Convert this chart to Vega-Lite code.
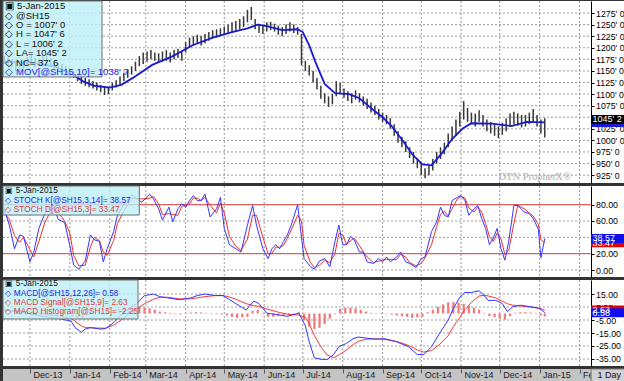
{
"$schema": "https://vega.github.io/schema/vega-lite/v6.json",
"padding": 0,
"background": "#333333",
"spacing": 3,
"bounds": "flush",
"config": {"view": {"stroke": null}, "font": "Liberation Sans", "text": {"font": "Liberation Sans"},
 "axis": {"grid": false, "tickColor": "#000", "domainColor": "#000", "labelColor": "#000", "labelFontSize": 8.8, "labelFont": "Liberation Sans", "labelOverlap": false, "labelFlush": false, "tickSize": 3, "labelPadding": 1.5}},
"datasets": {
"months": [{"m":"2013-12-01"},{"m":"2014-01-01"},{"m":"2014-02-01"},{"m":"2014-03-01"},{"m":"2014-04-01"},{"m":"2014-05-01"},{"m":"2014-06-01"},{"m":"2014-07-01"},{"m":"2014-08-01"},{"m":"2014-09-01"},{"m":"2014-10-01"},{"m":"2014-11-01"},{"m":"2014-12-01"},{"m":"2015-01-01"},{"m":"2015-02-01"}],
"price": [
{"d":"2013-11-11","l":1165,"h":1182},{"d":"2013-11-14","l":1160,"h":1178},{"d":"2013-11-17","l":1158,"h":1175},{"d":"2013-11-20","l":1150,"h":1170},{"d":"2013-11-23","l":1148,"h":1165},{"d":"2013-11-26","l":1155,"h":1172},{"d":"2013-11-29","l":1160,"h":1180},
{"d":"2013-12-02","l":1165,"h":1185},{"d":"2013-12-05","l":1158,"h":1178},{"d":"2013-12-08","l":1160,"h":1176},{"d":"2013-12-11","l":1162,"h":1182},{"d":"2013-12-14","l":1165,"h":1183},{"d":"2013-12-17","l":1160,"h":1178},{"d":"2013-12-20","l":1155,"h":1172},{"d":"2013-12-23","l":1150,"h":1168},{"d":"2013-12-26","l":1148,"h":1165},{"d":"2013-12-29","l":1145,"h":1160},
{"d":"2014-01-01","l":1140,"h":1156},{"d":"2014-01-04","l":1135,"h":1150},{"d":"2014-01-07","l":1128,"h":1145},{"d":"2014-01-10","l":1122,"h":1140},{"d":"2014-01-13","l":1118,"h":1135},{"d":"2014-01-16","l":1115,"h":1132},{"d":"2014-01-19","l":1112,"h":1128},{"d":"2014-01-22","l":1108,"h":1125},{"d":"2014-01-25","l":1104,"h":1120},{"d":"2014-01-28","l":1098,"h":1115},{"d":"2014-01-31","l":1100,"h":1116},
{"d":"2014-02-03","l":1108,"h":1124},{"d":"2014-02-06","l":1114,"h":1130},{"d":"2014-02-09","l":1120,"h":1138},{"d":"2014-02-12","l":1128,"h":1146},{"d":"2014-02-15","l":1135,"h":1152},{"d":"2014-02-18","l":1142,"h":1160},{"d":"2014-02-21","l":1150,"h":1170},{"d":"2014-02-24","l":1160,"h":1182},{"d":"2014-02-27","l":1165,"h":1190},
{"d":"2014-03-02","l":1170,"h":1192},{"d":"2014-03-05","l":1175,"h":1195},{"d":"2014-03-08","l":1172,"h":1190},{"d":"2014-03-11","l":1168,"h":1188},{"d":"2014-03-14","l":1170,"h":1192},{"d":"2014-03-17","l":1172,"h":1195},{"d":"2014-03-20","l":1168,"h":1190},{"d":"2014-03-23","l":1175,"h":1195},{"d":"2014-03-26","l":1178,"h":1198},{"d":"2014-03-29","l":1172,"h":1192},
{"d":"2014-04-01","l":1190,"h":1212},{"d":"2014-04-04","l":1200,"h":1222},{"d":"2014-04-07","l":1205,"h":1225},{"d":"2014-04-10","l":1208,"h":1228},{"d":"2014-04-13","l":1205,"h":1226},{"d":"2014-04-16","l":1210,"h":1230},{"d":"2014-04-19","l":1215,"h":1234},{"d":"2014-04-22","l":1220,"h":1238},{"d":"2014-04-25","l":1222,"h":1240},{"d":"2014-04-28","l":1225,"h":1242},
{"d":"2014-05-01","l":1228,"h":1245},{"d":"2014-05-04","l":1230,"h":1250},{"d":"2014-05-07","l":1232,"h":1255},{"d":"2014-05-10","l":1235,"h":1258},{"d":"2014-05-13","l":1240,"h":1262},{"d":"2014-05-16","l":1245,"h":1268},{"d":"2014-05-19","l":1255,"h":1282},{"d":"2014-05-22","l":1260,"h":1288},{"d":"2014-05-25","l":1240,"h":1262},{"d":"2014-05-28","l":1232,"h":1252},{"d":"2014-05-31","l":1230,"h":1248},
{"d":"2014-06-03","l":1235,"h":1255},{"d":"2014-06-06","l":1238,"h":1256},{"d":"2014-06-09","l":1235,"h":1252},{"d":"2014-06-12","l":1228,"h":1248},{"d":"2014-06-15","l":1225,"h":1245},{"d":"2014-06-18","l":1230,"h":1250},{"d":"2014-06-21","l":1235,"h":1255},{"d":"2014-06-24","l":1232,"h":1250},{"d":"2014-06-27","l":1228,"h":1245},{"d":"2014-06-30","l":1162,"h":1230},
{"d":"2014-07-03","l":1150,"h":1172},{"d":"2014-07-06","l":1140,"h":1162},{"d":"2014-07-09","l":1125,"h":1150},{"d":"2014-07-12","l":1110,"h":1135},{"d":"2014-07-15","l":1090,"h":1118},{"d":"2014-07-18","l":1080,"h":1102},{"d":"2014-07-21","l":1072,"h":1095},{"d":"2014-07-24","l":1078,"h":1100},{"d":"2014-07-27","l":1095,"h":1128},{"d":"2014-07-30","l":1100,"h":1124},
{"d":"2014-08-02","l":1092,"h":1112},{"d":"2014-08-05","l":1085,"h":1106},{"d":"2014-08-08","l":1080,"h":1102},{"d":"2014-08-11","l":1088,"h":1108},{"d":"2014-08-14","l":1082,"h":1102},{"d":"2014-08-17","l":1075,"h":1095},{"d":"2014-08-20","l":1068,"h":1090},{"d":"2014-08-23","l":1060,"h":1082},{"d":"2014-08-26","l":1055,"h":1075},{"d":"2014-08-29","l":1045,"h":1068},
{"d":"2014-09-01","l":1040,"h":1060},{"d":"2014-09-04","l":1035,"h":1055},{"d":"2014-09-07","l":1025,"h":1048},{"d":"2014-09-10","l":1010,"h":1035},{"d":"2014-09-13","l":995,"h":1020},{"d":"2014-09-16","l":985,"h":1008},{"d":"2014-09-19","l":975,"h":998},{"d":"2014-09-22","l":962,"h":985},{"d":"2014-09-25","l":950,"h":975},{"d":"2014-09-28","l":940,"h":962},
{"d":"2014-10-01","l":925,"h":950},{"d":"2014-10-04","l":918,"h":940},{"d":"2014-10-07","l":925,"h":945},{"d":"2014-10-10","l":935,"h":960},{"d":"2014-10-13","l":950,"h":975},{"d":"2014-10-16","l":960,"h":985},{"d":"2014-10-19","l":970,"h":995},{"d":"2014-10-22","l":985,"h":1015},{"d":"2014-10-25","l":1000,"h":1030},{"d":"2014-10-28","l":1010,"h":1045},{"d":"2014-10-31","l":1030,"h":1062},
{"d":"2014-11-03","l":1045,"h":1085},{"d":"2014-11-06","l":1040,"h":1070},{"d":"2014-11-09","l":1035,"h":1060},{"d":"2014-11-12","l":1030,"h":1058},{"d":"2014-11-15","l":1040,"h":1065},{"d":"2014-11-18","l":1030,"h":1055},{"d":"2014-11-21","l":1020,"h":1045},{"d":"2014-11-24","l":1015,"h":1040},{"d":"2014-11-27","l":1010,"h":1035},{"d":"2014-11-30","l":1005,"h":1030},
{"d":"2014-12-03","l":1012,"h":1038},{"d":"2014-12-06","l":1020,"h":1048},{"d":"2014-12-09","l":1030,"h":1058},{"d":"2014-12-12","l":1035,"h":1062},{"d":"2014-12-15","l":1032,"h":1058},{"d":"2014-12-18","l":1028,"h":1055},{"d":"2014-12-21","l":1030,"h":1055},{"d":"2014-12-24","l":1035,"h":1060},{"d":"2014-12-27","l":1040,"h":1068},{"d":"2014-12-30","l":1030,"h":1055},
{"d":"2015-01-02","l":1015,"h":1045},{"d":"2015-01-05","l":1006.25,"h":1047.75}
],
"ma": [
{"d":"2013-11-11","v":1170},{"d":"2013-12-01","v":1168},{"d":"2013-12-20","v":1160},{"d":"2014-01-03","v":1143},{"d":"2014-01-11","v":1128},{"d":"2014-01-20","v":1118},{"d":"2014-02-01","v":1114},{"d":"2014-02-10","v":1120},{"d":"2014-02-19","v":1135},{"d":"2014-03-06","v":1163},{"d":"2014-03-22","v":1182},{"d":"2014-04-06","v":1205},{"d":"2014-04-22","v":1222},{"d":"2014-05-07","v":1234},{"d":"2014-05-19","v":1242},{"d":"2014-05-27","v":1250},{"d":"2014-06-03","v":1247},{"d":"2014-06-15","v":1238},{"d":"2014-06-27","v":1240},{"d":"2014-07-01","v":1234},{"d":"2014-07-06","v":1205},{"d":"2014-07-11","v":1168},{"d":"2014-07-18","v":1122},{"d":"2014-07-26","v":1102},{"d":"2014-08-06","v":1100},{"d":"2014-08-14","v":1091},{"d":"2014-08-26","v":1063},{"d":"2014-09-01","v":1050},{"d":"2014-09-08","v":1031},{"d":"2014-09-16","v":1002},{"d":"2014-09-24","v":970},{"d":"2014-10-02","v":948},{"d":"2014-10-09","v":946},{"d":"2014-10-17","v":972},{"d":"2014-10-25","v":1003},{"d":"2014-11-02","v":1025},{"d":"2014-11-09","v":1037},{"d":"2014-11-25","v":1036},{"d":"2014-12-10","v":1031},{"d":"2014-12-22","v":1040},{"d":"2015-01-05","v":1038.9}
],
"st": [
{"d":"2013-11-11","k":75,"s":70},{"d":"2013-11-15","k":55,"s":62},{"d":"2013-11-19","k":26,"s":42},{"d":"2013-11-23","k":43,"s":34},{"d":"2013-11-26","k":41,"s":40},{"d":"2013-12-01","k":10,"s":25},{"d":"2013-12-04","k":22,"s":16},{"d":"2013-12-08","k":51,"s":35},{"d":"2013-12-13","k":71,"s":60},{"d":"2013-12-19","k":80,"s":76},{"d":"2013-12-23","k":62,"s":70},{"d":"2013-12-28","k":58,"s":60},
{"d":"2014-01-01","k":30,"s":45},{"d":"2014-01-04","k":6,"s":18},{"d":"2014-01-08","k":1,"s":5},{"d":"2014-01-13","k":11,"s":6},{"d":"2014-01-17","k":43,"s":28},{"d":"2014-01-20","k":37,"s":40},{"d":"2014-01-24","k":35,"s":36},{"d":"2014-01-27","k":10,"s":22},{"d":"2014-01-30","k":26,"s":18},
{"d":"2014-02-04","k":47,"s":36},{"d":"2014-02-07","k":67,"s":57},{"d":"2014-02-13","k":83,"s":75},{"d":"2014-02-18","k":92,"s":88},{"d":"2014-02-26","k":83,"s":87},
{"d":"2014-03-04","k":93,"s":88},{"d":"2014-03-07","k":87,"s":90},{"d":"2014-03-11","k":75,"s":81},{"d":"2014-03-14","k":61,"s":68},{"d":"2014-03-19","k":77,"s":69},{"d":"2014-03-22","k":59,"s":68},{"d":"2014-03-26","k":75,"s":67},{"d":"2014-03-29","k":81,"s":78},
{"d":"2014-04-01","k":77,"s":79},{"d":"2014-04-04","k":85,"s":81},{"d":"2014-04-07","k":91,"s":88},{"d":"2014-04-10","k":85,"s":88},{"d":"2014-04-13","k":85,"s":85},{"d":"2014-04-16","k":93,"s":89},{"d":"2014-04-20","k":65,"s":79},{"d":"2014-04-25","k":75,"s":70},{"d":"2014-04-28","k":89,"s":82},
{"d":"2014-05-01","k":51,"s":70},{"d":"2014-05-05","k":31,"s":41},{"d":"2014-05-10","k":26,"s":29},{"d":"2014-05-14","k":22,"s":24},{"d":"2014-05-19","k":55,"s":38},{"d":"2014-05-23","k":79,"s":67},{"d":"2014-05-26","k":55,"s":67},{"d":"2014-05-31","k":26,"s":40},
{"d":"2014-06-04","k":14,"s":20},{"d":"2014-06-07","k":26,"s":20},{"d":"2014-06-10","k":31,"s":28},{"d":"2014-06-13","k":26,"s":28},{"d":"2014-06-16","k":35,"s":30},{"d":"2014-06-19","k":43,"s":39},{"d":"2014-06-22","k":55,"s":49},{"d":"2014-06-27","k":80,"s":67},{"d":"2014-06-30","k":40,"s":60},
{"d":"2014-07-02","k":14,"s":30},{"d":"2014-07-07","k":4,"s":9},{"d":"2014-07-10","k":1,"s":3},{"d":"2014-07-14","k":11,"s":6},{"d":"2014-07-18","k":14,"s":12},{"d":"2014-07-22","k":4,"s":9},{"d":"2014-07-26","k":35,"s":20},{"d":"2014-07-29","k":55,"s":45},
{"d":"2014-08-01","k":31,"s":43},{"d":"2014-08-04","k":31,"s":31},{"d":"2014-08-07","k":41,"s":36},{"d":"2014-08-10","k":37,"s":39},{"d":"2014-08-14","k":22,"s":30},{"d":"2014-08-17","k":22,"s":22},{"d":"2014-08-20","k":10,"s":16},{"d":"2014-08-25","k":8,"s":9},{"d":"2014-08-29","k":14,"s":11},
{"d":"2014-09-01","k":10,"s":12},{"d":"2014-09-04","k":16,"s":13},{"d":"2014-09-07","k":10,"s":13},{"d":"2014-09-12","k":16,"s":13},{"d":"2014-09-15","k":22,"s":19},{"d":"2014-09-19","k":10,"s":16},{"d":"2014-09-22","k":8,"s":9},{"d":"2014-09-27","k":3,"s":5},
{"d":"2014-10-01","k":14,"s":8},{"d":"2014-10-04","k":16,"s":15},{"d":"2014-10-09","k":47,"s":31},{"d":"2014-10-13","k":59,"s":53},{"d":"2014-10-16","k":77,"s":68},{"d":"2014-10-19","k":67,"s":72},{"d":"2014-10-22","k":65,"s":66},{"d":"2014-10-25","k":85,"s":75},{"d":"2014-10-29","k":89,"s":87},
{"d":"2014-11-01","k":91,"s":90},{"d":"2014-11-04","k":85,"s":88},{"d":"2014-11-07","k":67,"s":76},{"d":"2014-11-11","k":75,"s":71},{"d":"2014-11-14","k":79,"s":77},{"d":"2014-11-17","k":63,"s":71},{"d":"2014-11-20","k":51,"s":57},{"d":"2014-11-23","k":31,"s":41},{"d":"2014-11-26","k":39,"s":35},{"d":"2014-11-29","k":51,"s":45},
{"d":"2014-12-02","k":26,"s":38},{"d":"2014-12-05","k":12,"s":19},{"d":"2014-12-08","k":35,"s":24},{"d":"2014-12-12","k":79,"s":57},{"d":"2014-12-15","k":79,"s":79},{"d":"2014-12-20","k":71,"s":75},{"d":"2014-12-24","k":69,"s":70},{"d":"2014-12-27","k":63,"s":66},{"d":"2014-12-31","k":50,"s":56},
{"d":"2015-01-02","k":15,"s":37},{"d":"2015-01-05","k":38.57,"s":33.47}
],
"mc": [
{"d":"2013-11-11","m":3,"g":2},{"d":"2013-11-25","m":1,"g":2},{"d":"2013-12-10","m":-2,"g":0},{"d":"2013-12-24","m":-4,"g":-2},
{"d":"2014-01-02","m":-5.9,"g":-3.5},{"d":"2014-01-05","m":-10.8,"g":-6},{"d":"2014-01-10","m":-14.4,"g":-9.5},{"d":"2014-01-13","m":-12,"g":-10.8},{"d":"2014-01-17","m":-10.8,"g":-11},{"d":"2014-01-25","m":-12,"g":-11.3},{"d":"2014-01-29","m":-11.5,"g":-11.2},
{"d":"2014-02-04","m":-7.1,"g":-9},{"d":"2014-02-10","m":-1,"g":-5},{"d":"2014-02-16","m":4,"g":0},{"d":"2014-02-22","m":7.6,"g":3.5},{"d":"2014-02-28","m":13.8,"g":7.6},
{"d":"2014-03-07","m":15,"g":11},{"d":"2014-03-12","m":13,"g":12.5},{"d":"2014-03-18","m":12,"g":12.5},{"d":"2014-03-27","m":10.6,"g":11.3},
{"d":"2014-04-05","m":12,"g":11.3},{"d":"2014-04-10","m":13.8,"g":12},{"d":"2014-04-16","m":15,"g":13},{"d":"2014-04-24","m":13.8,"g":13.8},{"d":"2014-04-30","m":13.8,"g":13.8},
{"d":"2014-05-04","m":11.3,"g":13},{"d":"2014-05-10","m":7.6,"g":11},{"d":"2014-05-18","m":2.7,"g":7.6},{"d":"2014-05-24","m":9.6,"g":6},{"d":"2014-05-28","m":7.6,"g":5.5},
{"d":"2014-06-03","m":0.3,"g":3.5},{"d":"2014-06-12","m":-1,"g":1},{"d":"2014-06-19","m":-2.2,"g":-0.5},{"d":"2014-06-28","m":0.3,"g":-1.2},
{"d":"2014-07-03","m":-9.5,"g":-3},{"d":"2014-07-06","m":-21.8,"g":-8},{"d":"2014-07-10","m":-34.1,"g":-17},{"d":"2014-07-16","m":-35.3,"g":-27},{"d":"2014-07-20","m":-35.3,"g":-32},{"d":"2014-07-25","m":-31.6,"g":-34},{"d":"2014-07-29","m":-25.5,"g":-32},
{"d":"2014-08-04","m":-23,"g":-28},{"d":"2014-08-09","m":-19.4,"g":-24},{"d":"2014-08-13","m":-18.1,"g":-21.5},{"d":"2014-08-19","m":-18.9,"g":-19.8},{"d":"2014-08-27","m":-19.8,"g":-19.4},
{"d":"2014-09-03","m":-19.4,"g":-20},{"d":"2014-09-12","m":-21.8,"g":-21.5},{"d":"2014-09-21","m":-25.5,"g":-24.5},{"d":"2014-09-28","m":-31.6,"g":-28},
{"d":"2014-10-03","m":-31.6,"g":-29.7},{"d":"2014-10-09","m":-25.5,"g":-28.5},{"d":"2014-10-15","m":-15.7,"g":-24},{"d":"2014-10-22","m":-5,"g":-17},{"d":"2014-10-26","m":4,"g":-10},{"d":"2014-10-31","m":12.5,"g":-3},
{"d":"2014-11-04","m":16.2,"g":3},{"d":"2014-11-09","m":16.2,"g":8.5},{"d":"2014-11-15","m":17.5,"g":13.5},{"d":"2014-11-19","m":13.8,"g":14},{"d":"2014-11-22","m":10.1,"g":13.5},{"d":"2014-11-28","m":10.1,"g":12},
{"d":"2014-12-03","m":7.6,"g":9.5},{"d":"2014-12-07","m":1.5,"g":7.5},{"d":"2014-12-11","m":5.2,"g":6.5},{"d":"2014-12-17","m":6.4,"g":5.8},{"d":"2014-12-25","m":5.2,"g":5},
{"d":"2015-01-01","m":4,"g":4},{"d":"2015-01-05","m":0.58,"g":2.63}
],
"hg": [
{"d":"2013-11-12","h":0.5},{"d":"2013-11-16","h":0.3},{"d":"2013-11-20","h":-0.5},{"d":"2013-11-24","h":-1},{"d":"2013-11-28","h":-1.2},{"d":"2013-12-02","h":-1.5},{"d":"2013-12-06","h":-1.5},{"d":"2013-12-10","h":-1.8},{"d":"2013-12-14","h":-2},{"d":"2013-12-18","h":-2},{"d":"2013-12-22","h":-2},{"d":"2013-12-26","h":-2},{"d":"2013-12-30","h":-2},
{"d":"2014-01-03","h":-2.5},{"d":"2014-01-07","h":-3.5},{"d":"2014-01-11","h":-3.5},{"d":"2014-01-15","h":-1},{"d":"2014-01-19","h":0.2},{"d":"2014-01-23","h":-0.5},{"d":"2014-01-27","h":-0.3},{"d":"2014-01-31","h":1.5},
{"d":"2014-02-04","h":2.5},{"d":"2014-02-08","h":3.5},{"d":"2014-02-12","h":4},{"d":"2014-02-16","h":4.5},{"d":"2014-02-20","h":4.5},{"d":"2014-02-24","h":5},{"d":"2014-02-28","h":4.8},
{"d":"2014-03-04","h":4},{"d":"2014-03-08","h":3},{"d":"2014-03-12","h":1.5},{"d":"2014-03-16","h":1},{"d":"2014-03-20","h":0.5},{"d":"2014-03-24","h":-0.5},{"d":"2014-03-28","h":-0.8},
{"d":"2014-04-01","h":0.5},{"d":"2014-04-05","h":0.7},{"d":"2014-04-09","h":1},{"d":"2014-04-13","h":0.8},{"d":"2014-04-17","h":0.5},{"d":"2014-04-21","h":-0.5},{"d":"2014-04-25","h":-0.5},{"d":"2014-04-29","h":-0.8},
{"d":"2014-05-03","h":-1.5},{"d":"2014-05-07","h":-2.5},{"d":"2014-05-11","h":-3.4},{"d":"2014-05-15","h":-3},{"d":"2014-05-19","h":-2.5},{"d":"2014-05-23","h":2},{"d":"2014-05-27","h":2.7},{"d":"2014-05-31","h":-0.5},
{"d":"2014-06-04","h":-2.5},{"d":"2014-06-08","h":-2.5},{"d":"2014-06-12","h":-2},{"d":"2014-06-16","h":-1.5},{"d":"2014-06-20","h":-1.5},{"d":"2014-06-24","h":-0.8},{"d":"2014-06-28","h":1},
{"d":"2014-07-02","h":-5},{"d":"2014-07-06","h":-10},{"d":"2014-07-10","h":-12},{"d":"2014-07-14","h":-11},{"d":"2014-07-18","h":-8},{"d":"2014-07-22","h":-4},{"d":"2014-07-26","h":-0.5},{"d":"2014-07-30","h":3.5},
{"d":"2014-08-03","h":4.5},{"d":"2014-08-07","h":4.5},{"d":"2014-08-11","h":4},{"d":"2014-08-15","h":3},{"d":"2014-08-19","h":1.5},{"d":"2014-08-23","h":0.5},{"d":"2014-08-27","h":0.3},{"d":"2014-08-31","h":0.5},
{"d":"2014-09-04","h":0.3},{"d":"2014-09-08","h":-0.8},{"d":"2014-09-12","h":-1.5},{"d":"2014-09-16","h":-2},{"d":"2014-09-20","h":-2.5},{"d":"2014-09-24","h":-3.4},{"d":"2014-09-28","h":-3},
{"d":"2014-10-02","h":-2.5},{"d":"2014-10-06","h":1},{"d":"2014-10-10","h":3},{"d":"2014-10-14","h":5},{"d":"2014-10-18","h":7},{"d":"2014-10-22","h":8.5},{"d":"2014-10-26","h":8.9},{"d":"2014-10-30","h":8.5},
{"d":"2014-11-03","h":7.5},{"d":"2014-11-07","h":6},{"d":"2014-11-11","h":4.5},{"d":"2014-11-15","h":3},{"d":"2014-11-19","h":0.5},{"d":"2014-11-23","h":-2},{"d":"2014-11-27","h":-3},
{"d":"2014-12-01","h":-4},{"d":"2014-12-05","h":-4.6},{"d":"2014-12-09","h":-2},{"d":"2014-12-13","h":0.5},{"d":"2014-12-17","h":1},{"d":"2014-12-21","h":1},{"d":"2014-12-25","h":0.8},{"d":"2014-12-29","h":0.5},
{"d":"2015-01-02","h":-1.5},{"d":"2015-01-05","h":-2.25}
]
},
"vconcat": [
{
"width": 624, "height": 182,
"view": {"fill": "white", "stroke": null},
"layer": [
{"data": {"values": [{"g":925},{"g":950},{"g":975},{"g":1000},{"g":1025},{"g":1050},{"g":1075},{"g":1100},{"g":1125},{"g":1150},{"g":1175},{"g":1200},{"g":1225},{"g":1250},{"g":1275}]},
 "mark": {"type": "rule", "color": "#9a9a9a", "strokeWidth": 1, "strokeDash": [2, 2]},
 "encoding": {
  "x": {"datum": {"year": 2013, "month": 11, "date": 10, "hours": 2, "utc": true}, "type": "temporal", "scale": {"type": "utc", "domain": [{"year": 2013, "month": 11, "date": 10, "hours": 2, "utc": true}, {"year": 2015, "month": 2, "date": 9, "hours": 22, "utc": true}], "range": [0, 588], "nice": false}, "axis": null},
  "x2": {"datum": {"year": 2015, "month": 2, "date": 9, "hours": 22, "utc": true}},
  "y": {"field": "g", "type": "quantitative", "scale": {"domain": [908, 1301], "nice": false, "zero": false},
        "axis": {"orient": "right", "offset": -36, "title": null, "values": [925, 950, 975, 1000, 1025, 1050, 1075, 1100, 1125, 1150, 1175, 1200, 1225, 1250, 1275], "labelExpr": "datum.value + \"' 0\""}}}},
{"data": {"name": "months"}, "mark": {"type": "rule", "color": "#9a9a9a", "strokeWidth": 1, "strokeDash": [2, 2]},
 "encoding": {"x": {"field": "m", "type": "temporal", "axis": null}}},
{"data": {"name": "price"}, "mark": {"type": "rule", "color": "#383838", "strokeWidth": 1.5},
 "encoding": {
  "x": {"field": "d", "type": "temporal", "axis": null},
  "y": {"field": "l", "type": "quantitative", "axis": {"orient": "right", "offset": -36, "title": null, "values": [925, 950, 975, 1000, 1025, 1050, 1075, 1100, 1125, 1150, 1175, 1200, 1225, 1250, 1275], "labelExpr": "datum.value + \"' 0\""}},
  "y2": {"field": "h"}}},
{"data": {"name": "ma"}, "mark": {"type": "line", "color": "#1a1ad0", "strokeWidth": 1.8},
 "encoding": {"x": {"field": "d", "type": "temporal", "axis": null},
  "y": {"field": "v", "type": "quantitative", "axis": {"orient": "right", "offset": -36, "title": null, "values": [925, 950, 975, 1000, 1025, 1050, 1075, 1100, 1125, 1150, 1175, 1200, 1225, 1250, 1275], "labelExpr": "datum.value + \"' 0\""}}}},
{"data": {"values": [{"t": "DTN  ProphetX®"}]}, "mark": {"type": "text", "align": "left", "baseline": "middle", "fontSize": 10.5, "font": "Liberation Serif", "color": "#b0b0b0"},
 "encoding": {"x": {"datum": {"year": 2014, "month": 11, "date": 30, "utc": true}, "type": "temporal", "axis": null},
  "y": {"datum": 921, "type": "quantitative", "axis": {"orient": "right", "offset": -36, "title": null, "values": [925, 950, 975, 1000, 1025, 1050, 1075, 1100, 1125, 1150, 1175, 1200, 1225, 1250, 1275], "labelExpr": "datum.value + \"' 0\""}}, "text": {"field": "t"}}},
{"data": {"values": [{}]}, "mark": {"type": "rect", "fill": "#bdeff8", "fillOpacity": 0.8, "stroke": "#707070", "strokeWidth": 1},
 "encoding": {"x": {"datum": {"year": 2013, "month": 11, "date": 10, "hours": 2, "utc": true}, "type": "temporal", "axis": null}, "x2": {"datum": {"year": 2014, "month": 1, "date": 26, "utc": true}},
  "y": {"datum": 1301, "type": "quantitative", "axis": {"orient": "right", "offset": -36, "title": null, "values": [925, 950, 975, 1000, 1025, 1050, 1075, 1100, 1125, 1150, 1175, 1200, 1225, 1250, 1275], "labelExpr": "datum.value + \"' 0\""}}, "y2": {"datum": 1137}}},
{"data": {"values": [{"t": ["▣ 5-Jan-2015", "◇ @SH15", "◇ O = 1007' 0", "◇ H = 1047' 6", "◇ L = 1006' 2", "◇ LA= 1045' 2", "◇ NC= 37' 6"]}]}, "mark": {"type": "text", "align": "left", "baseline": "top", "fontSize": 9.5, "lineHeight": 9.4, "color": "#111111"},
 "encoding": {"x": {"datum": {"year": 2013, "month": 11, "date": 12, "utc": true}, "type": "temporal", "axis": null},
  "y": {"datum": 1300.5, "type": "quantitative", "axis": {"orient": "right", "offset": -36, "title": null, "values": [925, 950, 975, 1000, 1025, 1050, 1075, 1100, 1125, 1150, 1175, 1200, 1225, 1250, 1275], "labelExpr": "datum.value + \"' 0\""}}, "text": {"field": "t"}}},
{"data": {"values": [{"t": "◇ MOV[@SH15,10]= 1038' 7"}]}, "mark": {"type": "text", "align": "left", "baseline": "top", "fontSize": 9.5, "color": "#2323e6"},
 "encoding": {"x": {"datum": {"year": 2013, "month": 11, "date": 12, "utc": true}, "type": "temporal", "axis": null},
  "y": {"datum": 1158.5, "type": "quantitative", "axis": {"orient": "right", "offset": -36, "title": null, "values": [925, 950, 975, 1000, 1025, 1050, 1075, 1100, 1125, 1150, 1175, 1200, 1225, 1250, 1275], "labelExpr": "datum.value + \"' 0\""}}, "text": {"field": "t"}}},
{"data": {"values": [{"v": 1038.9, "c": "blue"}, {"v": 1045.25, "c": "black"}]}, "mark": {"type": "rule", "strokeWidth": 9},
 "encoding": {"x": {"datum": {"year": 2015, "month": 2, "date": 10, "utc": true}, "type": "temporal", "axis": null}, "x2": {"datum": {"year": 2015, "month": 3, "date": 8, "utc": true}},
  "y": {"field": "v", "type": "quantitative", "axis": {"orient": "right", "offset": -36, "title": null, "values": [925, 950, 975, 1000, 1025, 1050, 1075, 1100, 1125, 1150, 1175, 1200, 1225, 1250, 1275], "labelExpr": "datum.value + \"' 0\""}},
  "color": {"field": "c", "type": "nominal", "scale": {"domain": ["blue", "black"], "range": ["#1a1ad0", "#000000"]}, "legend": null}}},
{"data": {"values": [{"t": "1045' 2", "v": 1045.25}]}, "mark": {"type": "text", "align": "left", "baseline": "middle", "fontSize": 9, "color": "#ffffff"},
 "encoding": {"x": {"datum": {"year": 2015, "month": 2, "date": 11, "utc": true}, "type": "temporal", "axis": null},
  "y": {"field": "v", "type": "quantitative", "axis": {"orient": "right", "offset": -36, "title": null, "values": [925, 950, 975, 1000, 1025, 1050, 1075, 1100, 1125, 1150, 1175, 1200, 1225, 1250, 1275], "labelExpr": "datum.value + \"' 0\""}}, "text": {"field": "t"}}}
]
},
{
"width": 624, "height": 91,
"view": {"fill": "white", "stroke": null},
"layer": [
{"data": {"values": [{"g": 0}, {"g": 20}, {"g": 40}, {"g": 60}, {"g": 80}]}, "mark": {"type": "rule", "color": "#9a9a9a", "strokeWidth": 1, "strokeDash": [2, 2]},
 "encoding": {
  "x": {"datum": {"year": 2013, "month": 11, "date": 10, "hours": 2, "utc": true}, "type": "temporal", "scale": {"type": "utc", "domain": [{"year": 2013, "month": 11, "date": 10, "hours": 2, "utc": true}, {"year": 2015, "month": 2, "date": 9, "hours": 22, "utc": true}], "range": [0, 588], "nice": false}, "axis": null},
  "x2": {"datum": {"year": 2015, "month": 2, "date": 9, "hours": 22, "utc": true}},
  "y": {"field": "g", "type": "quantitative", "scale": {"domain": [-8.57, 102.85], "nice": false, "zero": false},
        "axis": {"orient": "right", "offset": -36, "title": null, "values": [0, 20, 40, 60, 80], "format": ".2f"}}}},
{"data": {"name": "months"}, "mark": {"type": "rule", "color": "#9a9a9a", "strokeWidth": 1, "strokeDash": [2, 2]},
 "encoding": {"x": {"field": "m", "type": "temporal", "axis": null}}},
{"data": {"values": [{"v": 80}, {"v": 20}]}, "mark": {"type": "rule", "color": "#e04848", "strokeWidth": 1},
 "encoding": {
  "x": {"datum": {"year": 2013, "month": 11, "date": 10, "hours": 2, "utc": true}, "type": "temporal", "axis": null},
  "x2": {"datum": {"year": 2015, "month": 2, "date": 9, "hours": 22, "utc": true}},
  "y": {"field": "v", "type": "quantitative", "axis": {"orient": "right", "offset": -36, "title": null, "values": [0, 20, 40, 60, 80], "format": ".2f"}}}},
{"data": {"name": "st"}, "mark": {"type": "line", "color": "#e83030", "strokeWidth": 1},
 "encoding": {"x": {"field": "d", "type": "temporal", "axis": null},
  "y": {"field": "s", "type": "quantitative", "axis": {"orient": "right", "offset": -36, "title": null, "values": [0, 20, 40, 60, 80], "format": ".2f"}}}},
{"data": {"name": "st"}, "mark": {"type": "line", "color": "#3535ff", "strokeWidth": 1},
 "encoding": {"x": {"field": "d", "type": "temporal", "axis": null},
  "y": {"field": "k", "type": "quantitative", "axis": {"orient": "right", "offset": -36, "title": null, "values": [0, 20, 40, 60, 80], "format": ".2f"}}}},
{"data": {"values": [{}]}, "mark": {"type": "rect", "fill": "#bdeff8", "fillOpacity": 0.8, "stroke": "#707070", "strokeWidth": 1},
 "encoding": {"x": {"datum": {"year": 2013, "month": 11, "date": 10, "hours": 2, "utc": true}, "type": "temporal", "axis": null}, "x2": {"datum": {"year": 2014, "month": 2, "date": 24, "utc": true}},
  "y": {"datum": 102.85, "type": "quantitative", "axis": {"orient": "right", "offset": -36, "title": null, "values": [0, 20, 40, 60, 80], "format": ".2f"}}, "y2": {"datum": 67.3}}},
{"data": {"values": [{"t": "▣ 5-Jan-2015", "v": 96.7, "c": "a"}, {"t": "◇ STOCH K[@SH15,3,14]= 38.57", "v": 84.5, "c": "b"}, {"t": "◇ STOCH D[@SH15,3]= 33.47", "v": 73.5, "c": "c"}]}, "mark": {"type": "text", "align": "left", "baseline": "middle", "fontSize": 8.3},
 "encoding": {"x": {"datum": {"year": 2013, "month": 11, "date": 12, "utc": true}, "type": "temporal", "axis": null},
  "y": {"field": "v", "type": "quantitative", "axis": {"orient": "right", "offset": -36, "title": null, "values": [0, 20, 40, 60, 80], "format": ".2f"}}, "text": {"field": "t"},
  "color": {"field": "c", "type": "nominal", "scale": {"domain": ["a", "b", "c"], "range": ["#111111", "#2323e6", "#d83a3a"]}, "legend": null}}},
{"data": {"values": [{"v": 33.47, "c": "red"}, {"v": 38.57, "c": "blue"}]}, "mark": {"type": "rule", "strokeWidth": 9},
 "encoding": {"x": {"datum": {"year": 2015, "month": 2, "date": 10, "utc": true}, "type": "temporal", "axis": null}, "x2": {"datum": {"year": 2015, "month": 3, "date": 8, "utc": true}},
  "y": {"field": "v", "type": "quantitative", "axis": {"orient": "right", "offset": -36, "title": null, "values": [0, 20, 40, 60, 80], "format": ".2f"}},
  "color": {"field": "c", "type": "nominal", "scale": {"domain": ["red", "blue"], "range": ["#e00000", "#1010ee"]}, "legend": null}}},
{"data": {"values": [{"t": "33.47", "v": 33.47}, {"t": "38.57", "v": 38.57}]}, "mark": {"type": "text", "align": "left", "baseline": "middle", "fontSize": 9, "color": "#ffffff"},
 "encoding": {"x": {"datum": {"year": 2015, "month": 2, "date": 11, "utc": true}, "type": "temporal", "axis": null},
  "y": {"field": "v", "type": "quantitative", "axis": {"orient": "right", "offset": -36, "title": null, "values": [0, 20, 40, 60, 80], "format": ".2f"}}, "text": {"field": "t"}}}
],
"resolve": {"scale": {"color": "independent"}}
},
{
"width": 624, "height": 86,
"view": {"fill": "white", "stroke": null},
"layer": [
{"data": {"values": [{"g": -35}, {"g": -25}, {"g": -15}, {"g": -5}, {"g": 5}, {"g": 15}]}, "mark": {"type": "rule", "color": "#9a9a9a", "strokeWidth": 1, "strokeDash": [2, 2]},
 "encoding": {
  "x": {"datum": {"year": 2013, "month": 11, "date": 10, "hours": 2, "utc": true}, "type": "temporal", "scale": {"type": "utc", "domain": [{"year": 2013, "month": 11, "date": 10, "hours": 2, "utc": true}, {"year": 2015, "month": 2, "date": 9, "hours": 22, "utc": true}], "range": [0, 588], "nice": false}, "axis": null},
  "x2": {"datum": {"year": 2015, "month": 2, "date": 9, "hours": 22, "utc": true}},
  "y": {"field": "g", "type": "quantitative", "scale": {"domain": [-40.4, 25.8], "nice": false, "zero": false},
        "axis": {"orient": "right", "offset": -36, "title": null, "values": [-35, -25, -15, -5, 5, 15], "labelExpr": "replace(format(datum.value, '.2f'), '\u2212', '-')"}}}},
{"data": {"name": "months"}, "mark": {"type": "rule", "color": "#9a9a9a", "strokeWidth": 1, "strokeDash": [2, 2]},
 "encoding": {"x": {"field": "m", "type": "temporal", "axis": null}}},
{"data": {"name": "hg"}, "mark": {"type": "rule", "color": "#f07878", "strokeWidth": 2.2},
 "encoding": {
  "x": {"field": "d", "type": "temporal", "axis": null},
  "y": {"field": "h", "type": "quantitative", "axis": {"orient": "right", "offset": -36, "title": null, "values": [-35, -25, -15, -5, 5, 15], "labelExpr": "replace(format(datum.value, '.2f'), '\u2212', '-')"}},
  "y2": {"datum": 0}}},
{"data": {"name": "mc"}, "mark": {"type": "line", "color": "#f03a3a", "strokeWidth": 1},
 "encoding": {"x": {"field": "d", "type": "temporal", "axis": null},
  "y": {"field": "g", "type": "quantitative", "axis": {"orient": "right", "offset": -36, "title": null, "values": [-35, -25, -15, -5, 5, 15], "labelExpr": "replace(format(datum.value, '.2f'), '\u2212', '-')"}}}},
{"data": {"name": "mc"}, "mark": {"type": "line", "color": "#3535ff", "strokeWidth": 1},
 "encoding": {"x": {"field": "d", "type": "temporal", "axis": null},
  "y": {"field": "m", "type": "quantitative", "axis": {"orient": "right", "offset": -36, "title": null, "values": [-35, -25, -15, -5, 5, 15], "labelExpr": "replace(format(datum.value, '.2f'), '\u2212', '-')"}}}},
{"data": {"values": [{}]}, "mark": {"type": "rect", "fill": "#bdeff8", "fillOpacity": 0.8, "stroke": "#707070", "strokeWidth": 1},
 "encoding": {"x": {"datum": {"year": 2013, "month": 11, "date": 10, "hours": 2, "utc": true}, "type": "temporal", "axis": null}, "x2": {"datum": {"year": 2014, "month": 2, "date": 23, "utc": true}},
  "y": {"datum": 25.8, "type": "quantitative", "axis": {"orient": "right", "offset": -36, "title": null, "values": [-35, -25, -15, -5, 5, 15], "labelExpr": "replace(format(datum.value, '.2f'), '\u2212', '-')"}}, "y2": {"datum": -4.2}}},
{"data": {"values": [{"t": "▣ 5-Jan-2015", "v": 22.7, "c": "a"}, {"t": "◇ MACD[@SH15,12,26]= 0.58", "v": 15.0, "c": "b"}, {"t": "◇ MACD Signal[@SH15,9]= 2.63", "v": 8.1, "c": "c"}, {"t": "◇ MACD Histogram[@SH15]= -2.25", "v": 1.2, "c": "c"}]}, "mark": {"type": "text", "align": "left", "baseline": "middle", "fontSize": 8.3},
 "encoding": {"x": {"datum": {"year": 2013, "month": 11, "date": 12, "utc": true}, "type": "temporal", "axis": null},
  "y": {"field": "v", "type": "quantitative", "axis": {"orient": "right", "offset": -36, "title": null, "values": [-35, -25, -15, -5, 5, 15], "labelExpr": "replace(format(datum.value, '.2f'), '\u2212', '-')"}}, "text": {"field": "t"},
  "color": {"field": "c", "type": "nominal", "scale": {"domain": ["a", "b", "c"], "range": ["#111111", "#2323e6", "#e03a3a"]}, "legend": null}}},
{"data": {"values": [{"v": 2.63, "c": "red"}, {"v": 0.58, "c": "blue"}]}, "mark": {"type": "rule", "strokeWidth": 9},
 "encoding": {"x": {"datum": {"year": 2015, "month": 2, "date": 10, "utc": true}, "type": "temporal", "axis": null}, "x2": {"datum": {"year": 2015, "month": 3, "date": 8, "utc": true}},
  "y": {"field": "v", "type": "quantitative", "axis": {"orient": "right", "offset": -36, "title": null, "values": [-35, -25, -15, -5, 5, 15], "labelExpr": "replace(format(datum.value, '.2f'), '\u2212', '-')"}},
  "color": {"field": "c", "type": "nominal", "scale": {"domain": ["red", "blue"], "range": ["#e00000", "#1010ee"]}, "legend": null}}},
{"data": {"values": [{"t": "2.63", "v": 2.63}, {"t": "0.58", "v": 0.58}]}, "mark": {"type": "text", "align": "left", "baseline": "middle", "fontSize": 9, "color": "#ffffff"},
 "encoding": {"x": {"datum": {"year": 2015, "month": 2, "date": 11, "utc": true}, "type": "temporal", "axis": null},
  "y": {"field": "v", "type": "quantitative", "axis": {"orient": "right", "offset": -36, "title": null, "values": [-35, -25, -15, -5, 5, 15], "labelExpr": "replace(format(datum.value, '.2f'), '\u2212', '-')"}}, "text": {"field": "t"}}}
],
"resolve": {"scale": {"color": "independent"}}
},
{
"width": 624, "height": 13,
"view": {"fill": "#c4c4c4", "stroke": null},
"data": {"values": [{"t": "1 Day"}]},
"layer": [
{"mark": {"type": "rect", "fill": "#d2d2d2", "stroke": "#7a7a7a", "strokeWidth": 1},
 "encoding": {
  "x": {"datum": {"year": 2015, "month": 2, "date": 10, "utc": true}, "type": "temporal", "scale": {"type": "utc", "domain": [{"year": 2013, "month": 11, "date": 10, "hours": 2, "utc": true}, {"year": 2015, "month": 2, "date": 9, "hours": 22, "utc": true}], "range": [0, 588], "nice": false},
        "axis": {"orient": "bottom", "offset": -13, "title": null, "tickCount": {"interval": "month", "step": 1}, "format": "%b-%y", "labelAlign": "left", "labelBaseline": "middle", "labelPadding": 1.5, "labelOffset": 3, "labelFontSize": 9, "labelColor": "#1a1a1a", "tickSize": 4, "tickColor": "#555", "domain": false}},
  "x2": {"datum": {"year": 2015, "month": 3, "date": 8, "utc": true}}}},
{"mark": {"type": "text", "align": "center", "baseline": "middle", "fontSize": 9, "color": "#111111", "dy": -1},
 "encoding": {"x": {"datum": {"year": 2015, "month": 2, "date": 24, "utc": true}, "type": "temporal",
        "axis": {"orient": "bottom", "offset": -13, "title": null, "tickCount": {"interval": "month", "step": 1}, "format": "%b-%y", "labelAlign": "left", "labelBaseline": "middle", "labelPadding": 1.5, "labelOffset": 3, "labelFontSize": 9, "labelColor": "#1a1a1a", "tickSize": 4, "tickColor": "#555", "domain": false}},
  "text": {"field": "t"}}}
]
}
]
}
